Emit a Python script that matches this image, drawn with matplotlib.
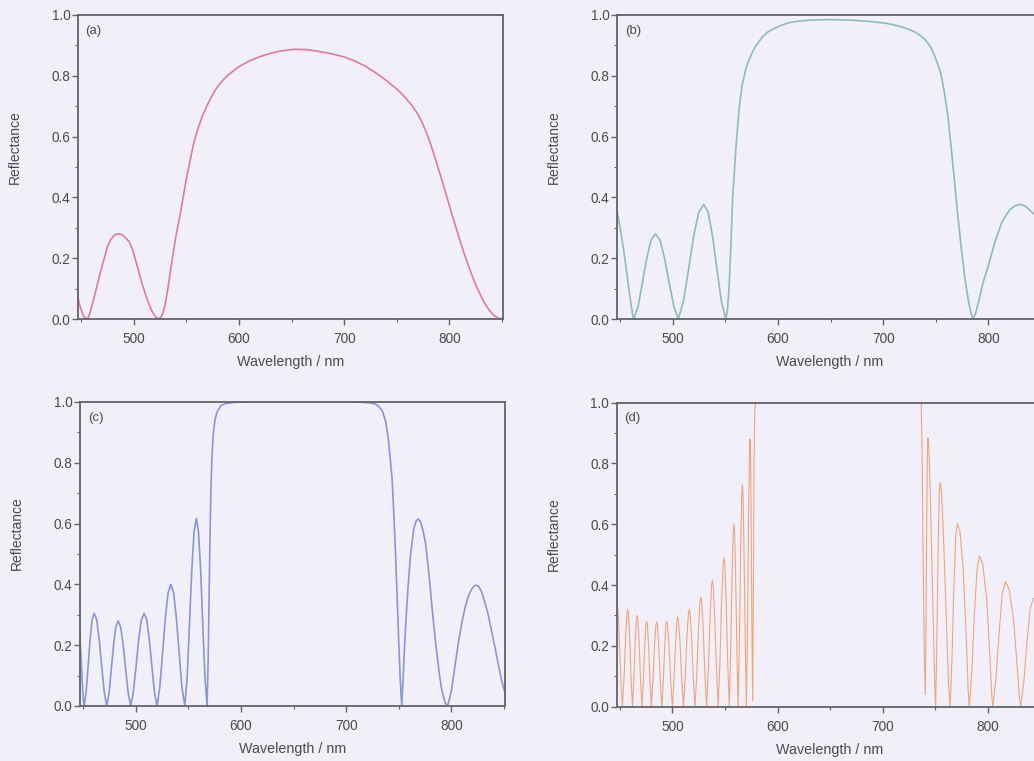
import matplotlib
matplotlib.use('Agg')
import matplotlib.pyplot as plt
from matplotlib.ticker import MultipleLocator, FormatStrFormatter

plt.rcParams['font.family'] = ['Liberation Sans', 'DejaVu Sans']

# (a) pink
wl_a = [447, 448, 450, 452, 454, 456, 458, 460, 462.5, 465.5, 468.8, 472, 475, 478, 481,
        483.5, 486, 489, 492, 495.5, 499, 503.5, 508, 513, 517, 520.5, 524, 526, 528,
        530, 532.5, 535, 537.5, 540, 545, 550, 553.5, 557, 561, 565, 569, 573, 577, 581,
        585, 589, 595, 600, 610, 620, 630, 640, 652, 665, 680, 690, 700, 710, 720, 730,
        740, 750, 757, 765, 770, 774, 778, 782, 786, 790, 794, 798, 802, 806, 810, 814,
        818, 822, 826, 830, 834, 838, 842, 846, 849, 851]
R_a = [0.07, 0.055, 0.03, 0.012, 0.003, 0.0, 0.015, 0.04, 0.073, 0.115, 0.16, 0.2, 0.238, 0.26, 0.274,
       0.279, 0.28, 0.277, 0.268, 0.255, 0.228, 0.172, 0.115, 0.0625, 0.028, 0.008, 0.0, 0.006, 0.022,
       0.05, 0.1, 0.16, 0.215, 0.27, 0.36, 0.46, 0.52, 0.578, 0.625, 0.665, 0.697, 0.725, 0.75, 0.77,
       0.786, 0.8, 0.817, 0.83, 0.849, 0.863, 0.874, 0.882, 0.887, 0.886, 0.878, 0.871, 0.862, 0.849, 0.832, 0.81,
       0.785, 0.757, 0.733, 0.7, 0.674, 0.648, 0.615, 0.578, 0.535, 0.49, 0.445, 0.398, 0.35, 0.305, 0.26, 0.217,
       0.177, 0.14, 0.106, 0.076, 0.05, 0.029, 0.013, 0.004, 0.0, 0.004]

# (b) teal
wl_b = [447, 450, 453, 455.4, 458, 460.5, 462, 463, 467.1, 471.2, 475.3, 479.4, 483.5,
        487.9, 492.2, 496.6, 501, 505.3, 510.1, 515, 519.8, 524.7, 529.5, 533.7, 537.9,
        542.1, 546.3, 550.5, 552, 553.5, 555, 557, 560, 563, 566, 570, 575, 579, 585, 590,
        595, 603, 611, 620, 630, 650, 670, 690, 704, 712, 720, 725, 729.6, 734, 738, 742,
        745.6, 749, 752, 755, 758, 761.6, 764.8, 768, 771, 774.4, 777.5, 780.8, 783.3,
        785.6, 788, 791, 795, 800, 806, 812.8, 820, 825, 830.3, 835, 840, 845, 851]
R_b = [0.355, 0.3, 0.235, 0.175, 0.105, 0.045, 0.012, 0.0, 0.042, 0.12, 0.2, 0.26, 0.28,
       0.26, 0.2, 0.12, 0.042, 0.0, 0.057, 0.162, 0.271, 0.351, 0.377, 0.351, 0.271,
       0.162, 0.057, 0.0, 0.03, 0.1, 0.22, 0.4, 0.56, 0.69, 0.77, 0.83, 0.873, 0.898, 0.927, 0.943,
       0.953, 0.966, 0.975, 0.98, 0.983, 0.985, 0.983, 0.978, 0.972, 0.966, 0.958, 0.952, 0.945, 0.936, 0.925, 0.91,
       0.892, 0.865, 0.838, 0.805, 0.75, 0.667, 0.56, 0.448, 0.34, 0.23, 0.14, 0.066, 0.022,
       0.0, 0.02, 0.06, 0.12, 0.175, 0.25, 0.318, 0.358, 0.372, 0.377, 0.372, 0.356, 0.34, 0.3]

# (c) blue
wl_c = [446, 447.5, 449, 450.2, 450.9,
        452.8, 454.7, 456.6, 458.5, 460.4, 462.8, 465.2, 467.6, 470, 472.4,
        474.6, 476.7, 478.9, 481, 483.2, 485.6, 488, 490.4, 492.8, 495.2,
        497.7, 500.3, 502.8, 505.4, 507.9, 510.4, 512.8, 515.3, 517.7, 520.2,
        522.8, 525.4, 528.1, 530.7, 533.3, 536, 538.6, 541.3, 543.9, 546.6,
        548.8, 551, 553.2, 555.4, 557.6, 559.6, 561.7, 563.7, 565.8, 567.8,
        568.8, 569.7, 570.5, 571.3, 572.3, 573.5, 575.5, 577.6, 581, 585.5, 595, 610, 700,
        715, 722, 727.8, 731, 734.5, 737.6, 740, 742, 743.6, 745.2, 746.8, 748.4, 750, 751.5,
        752.8, 754.5, 756.4, 758.8, 761.2, 764.4, 766.5, 768.4, 770, 771.5, 773.5, 775.7,
        778.8, 782, 785.3, 788.4, 790.5, 792.5, 794.5, 796.2, 798, 800, 804, 807, 810.3,
        813.5, 816.7, 820, 823.2, 826, 828.8, 832.6, 835, 838, 842.2, 845, 848, 851.5]
R_c = [0.3, 0.19, 0.08, 0.015, 0.0,
       0.046, 0.131, 0.22, 0.284, 0.305, 0.284, 0.22, 0.131, 0.046, 0.0,
       0.042, 0.12, 0.202, 0.26, 0.28, 0.26, 0.202, 0.12, 0.042, 0.0,
       0.046, 0.131, 0.22, 0.284, 0.305, 0.284, 0.22, 0.131, 0.046, 0.0,
       0.06, 0.172, 0.288, 0.372, 0.40, 0.372, 0.288, 0.172, 0.06, 0.0,
       0.093, 0.265, 0.444, 0.574, 0.617, 0.574, 0.444, 0.265, 0.093, 0.0,
       0.15, 0.365, 0.54, 0.694, 0.81, 0.89, 0.945, 0.97, 0.988, 0.995, 0.999, 1.0, 1.0,
       0.999, 0.997, 0.993, 0.985, 0.97, 0.935, 0.88, 0.81, 0.75, 0.64, 0.51, 0.365, 0.21, 0.08,
       0.0, 0.12, 0.257, 0.39, 0.497, 0.585, 0.608, 0.615, 0.61, 0.598, 0.57, 0.53,
       0.43, 0.31, 0.2, 0.11, 0.06, 0.03, 0.008, 0.0, 0.02, 0.05, 0.145, 0.215, 0.28,
       0.33, 0.367, 0.388, 0.398, 0.393, 0.375, 0.332, 0.3, 0.25, 0.18, 0.13, 0.08, 0.036]

# (d) orange
wl_d = [447, 448.5, 450, 451.3, 452.5,
        454, 455.5, 456.75, 457.5, 458.2, 459.3, 460.65, 462,
        463.35, 464.7, 465.8, 466.5, 467.2, 468.3, 469.65, 471,
        472.35, 473.7, 474.8, 475.5, 476.2, 477.3, 478.65, 480,
        481.5, 483, 484.25, 485, 485.75, 487, 488.5, 490,
        491.35, 492.7, 493.8, 494.5, 495.3, 496.7, 498.35, 500,
        501.5, 503, 504.25, 505, 505.8, 507.2, 508.85, 510.5,
        512.15, 513.8, 515.2, 516, 516.8, 518.2, 519.85, 521.5,
        523.15, 524.8, 526.2, 527, 527.8, 529.2, 530.85, 532.5,
        534.15, 535.8, 537.2, 538, 538.8, 540.2, 541.85, 543.5,
        545.15, 546.8, 548.2, 549, 549.75, 551, 552.5, 554,
        555.35, 556.7, 557.8, 558.5, 559.1, 560.1, 561.3, 562.5,
        563.7, 564.9, 565.9, 566.5, 567.1, 568.0, 569.2, 570.3,
        571.35, 572.4, 573.3, 573.8, 574.2, 574.8, 575.55, 576.3,
        577, 577.6, 578.3, 579, 650, 736.5,
        737.3, 738.3, 739.5, 740.4, 741, 741.7, 742.3, 742.9, 743.7, 745, 746.8, 748.5, 749.5, 750.2,
        751.3, 752.5, 753.6, 754.4, 755.8, 757.8, 760.2, 762.4, 764,
        765.8, 767.6, 769.5, 771, 773.4, 776.5, 779.4, 781.2, 782.2,
        784.5, 787, 789.6, 791.8, 795, 798.8, 802, 803.7, 804.6,
        807.5, 810.5, 813.5, 816.4, 820.3, 824.5, 828, 830, 831,
        834, 837, 840, 843, 846, 849, 851]
R_d = [0.37, 0.3, 0.18, 0.06, 0.0,
       0.096, 0.23, 0.307, 0.32, 0.307, 0.23, 0.096, 0.0,
       0.09, 0.216, 0.288, 0.3, 0.288, 0.216, 0.09, 0.0,
       0.084, 0.202, 0.269, 0.28, 0.269, 0.202, 0.084, 0.0,
       0.084, 0.202, 0.269, 0.28, 0.269, 0.202, 0.084, 0.0,
       0.084, 0.202, 0.269, 0.28, 0.269, 0.202, 0.084, 0.0,
       0.089, 0.212, 0.283, 0.295, 0.283, 0.212, 0.089, 0.0,
       0.096, 0.23, 0.307, 0.32, 0.307, 0.23, 0.096, 0.0,
       0.108, 0.259, 0.346, 0.36, 0.346, 0.259, 0.108, 0.0,
       0.125, 0.299, 0.398, 0.415, 0.398, 0.299, 0.125, 0.0,
       0.147, 0.353, 0.47, 0.49, 0.47, 0.353, 0.147, 0.0,
       0.18, 0.432, 0.576, 0.6, 0.576, 0.432, 0.18, 0.0,
       0.219, 0.526, 0.70, 0.73, 0.70, 0.526, 0.219, 0.0,
       0.264, 0.634, 0.845, 0.88, 0.845, 0.634, 0.264, 0.02,
       0.4, 0.8, 0.97, 1.0, 1.0, 1.0,
       0.85, 0.5, 0.15, 0.04, 0.25, 0.6, 0.82, 0.883, 0.86, 0.72, 0.45, 0.18, 0.05, 0.0,
       0.2, 0.5, 0.7, 0.738, 0.71, 0.55, 0.3, 0.08, 0.0,
       0.16, 0.4, 0.57, 0.603, 0.575, 0.45, 0.22, 0.05, 0.0,
       0.11, 0.3, 0.45, 0.496, 0.47, 0.35, 0.15, 0.03, 0.0,
       0.09, 0.24, 0.37, 0.411, 0.385, 0.28, 0.12, 0.025, 0.0,
       0.08, 0.21, 0.32, 0.357, 0.35, 0.32, 0.29]

panels = [
    ('(a)', wl_a, R_a, '#e4799a', 1.2, [0.0754, 0.5808, 0.411, 0.3995]),
    ('(b)', wl_b, R_b, '#8cbcb4', 1.2, [0.5967, 0.5808, 0.411, 0.3995]),
    ('(c)', wl_c, R_c, '#8c94da', 1.2, [0.0774, 0.0723, 0.411, 0.3995]),
    ('(d)', wl_d, R_d, '#f2a47c', 0.8, [0.5964, 0.0714, 0.411, 0.3995]),
]

bg = '#f1f0f8'
axcol = '#62626c'
txtcol = '#4a4a55'

fig = plt.figure(figsize=(10.34, 7.61), dpi=100, facecolor=bg)

for tag, x, y, col, lw, pos in panels:
    ax = fig.add_axes(pos)
    ax.set_facecolor('none')
    ax.plot(x, y, color=col, lw=lw, zorder=2)
    ax.set_xlim(447, 851)
    ax.set_ylim(0, 1.0)
    ax.xaxis.set_major_locator(MultipleLocator(100))
    ax.xaxis.set_minor_locator(MultipleLocator(50))
    ax.yaxis.set_major_locator(MultipleLocator(0.2))
    ax.yaxis.set_minor_locator(MultipleLocator(0.1))
    ax.yaxis.set_major_formatter(FormatStrFormatter('%.1f'))
    for s in ax.spines.values():
        s.set_color(axcol)
        s.set_linewidth(1.3)
        s.set_zorder(3)
    ax.tick_params(which='major', direction='out', length=4, width=1, color=axcol,
                   labelsize=9.8, labelcolor=txtcol)
    ax.tick_params(axis='x', which='major', pad=5.5)
    ax.tick_params(axis='y', which='major', pad=1.5)
    ax.tick_params(which='minor', direction='out', length=2, width=0.8, color=axcol)
    ax.set_xlabel('Wavelength / nm', fontsize=10.3, color=txtcol)
    ax.set_ylabel('Reflectance', fontsize=10, color=txtcol)
    ax.xaxis.set_label_coords(0.5, -0.118)
    ax.yaxis.set_label_coords(-0.132, 0.567)
    ax.text(0.018, 0.968, tag, transform=ax.transAxes, ha='left', va='top',
            fontsize=9.5, color=txtcol)

fig.savefig('out.png', dpi=100, facecolor=bg)
